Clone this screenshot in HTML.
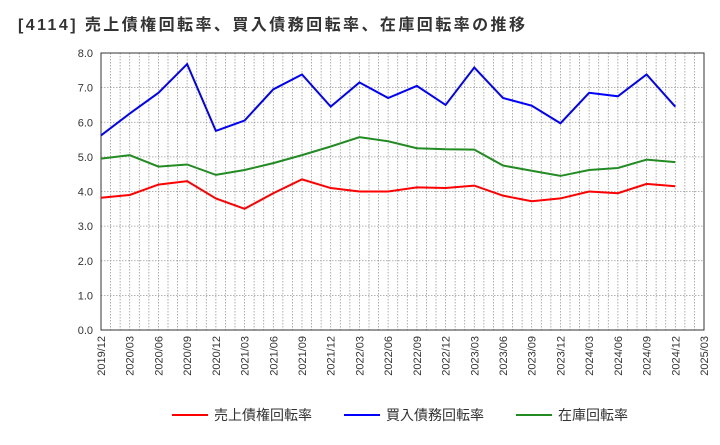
<!DOCTYPE html>
<html><head><meta charset="utf-8"><style>
body{margin:0;background:#fff;font-family:"Liberation Sans","Noto Sans CJK JP",sans-serif;}
</style></head><body>
<svg id="c" width="720" height="440" xmlns="http://www.w3.org/2000/svg">
<text x="18" y="30" font-size="16" font-weight="bold" fill="#333" textLength="507" lengthAdjust="spacing" font-family="Liberation Sans, Noto Sans CJK JP, sans-serif">[4114]  売上債権回転率、買入債務回転率、在庫回転率の推移</text>
<g id="grid"></g><g id="axes"></g><g id="series"></g><g id="legend"></g>
</svg>
<script>
const xLabels=["2019/12","2020/03","2020/06","2020/09","2020/12","2021/03","2021/06","2021/09","2021/12","2022/03","2022/06","2022/09","2022/12","2023/03","2023/06","2023/09","2023/12","2024/03","2024/06","2024/09","2024/12","2025/03"];
const yTicks=[0,1,2,3,4,5,6,7,8];
const receivables=[3.82,3.9,4.2,4.3,3.8,3.5,3.95,4.35,4.1,4.0,4.0,4.12,4.1,4.17,3.88,3.72,3.8,4.0,3.95,4.22,4.15];
const payables=[5.62,6.25,6.85,7.68,5.75,6.05,6.95,7.38,6.45,7.15,6.7,7.05,6.5,7.58,6.7,6.48,5.97,6.85,6.75,7.38,6.45];
const inventory=[4.95,5.05,4.72,4.78,4.48,4.62,4.82,5.05,5.3,5.57,5.45,5.25,5.22,5.21,4.75,4.6,4.45,4.62,4.68,4.92,4.85];
const NS="http://www.w3.org/2000/svg";
const L=101,R=704,T=53,B=330;
const xs=i=>L+(R-L)*i/(xLabels.length-1);
const ys=v=>B-(B-T)*v/8;
function mk(t,a,p){const e=document.createElementNS(NS,t);for(const k in a)e.setAttribute(k,a[k]);p.appendChild(e);return e;}
const grid=document.getElementById('grid'),axes=document.getElementById('axes'),ser=document.getElementById('series'),leg=document.getElementById('legend');
for(let m=1;m<(xLabels.length-1)*3;m++){const x=L+(R-L)*m/((xLabels.length-1)*3);
const g=mk('line',{x1:x,x2:x,y1:T,y2:B,stroke:'#999','stroke-width':0.8,'stroke-dasharray':'1.5,1.5'},grid);

}
yTicks.forEach(v=>{const y=ys(v);
const g=mk('line',{x1:L,x2:R,y1:y,y2:y,stroke:'#999','stroke-width':0.8,'stroke-dasharray':'1.5,1.5'},grid);


const t=mk('text',{x:L-8,y:y+4,'text-anchor':'end','font-size':11,fill:'#333'},axes);t.textContent=v.toFixed(1);

});
const fr=mk('rect',{x:L,y:T,width:R-L,height:B-T,fill:'none',stroke:'#333','stroke-width':1},axes);


xLabels.forEach((s,i)=>{const x=xs(i);const t=mk('text',{x:x+4,y:B+6,'text-anchor':'end','font-size':11,fill:'#333',transform:`rotate(-90 ${x+4} ${B+6})`},axes);t.textContent=s;

});
[[receivables,'#ff0000','receivables-turnover-line'],[payables,'#0000ff','payables-turnover-line'],[inventory,'#228b22','inventory-turnover-line']].forEach(([d,c,n])=>{
const p=mk('polyline',{points:d.map((v,i)=>xs(i)+','+ys(v)).join(' '),fill:'none',stroke:c,'stroke-width':2},ser);

});
[['売上債権回転率','#ff0000',172],['買入債務回転率','#0000ff',344],['在庫回転率','#228b22',516]].forEach(([s,c,x])=>{
const l=mk('line',{x1:x,x2:x+36,y1:415,y2:415,stroke:c,'stroke-width':2},leg);


const t=mk('text',{x:x+42,y:420,'font-size':14,fill:'#333'},leg);t.textContent=s;

});
</script>
</body></html>
